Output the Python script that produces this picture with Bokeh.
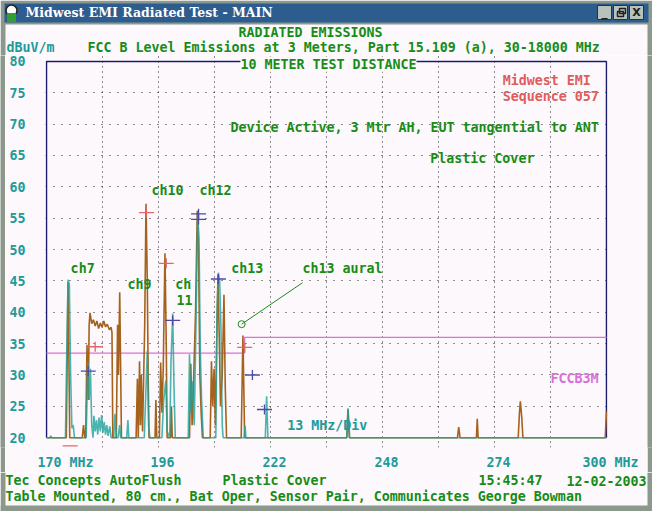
import math
from bokeh.plotting import figure
from bokeh.models import Range1d, FixedTicker, Label
from bokeh.layouts import column, row
from bokeh.embed import file_html
from bokeh.resources import INLINE

# ---------------- data ----------------
brown_freq = [170, 174.6, 175.0, 175.4, 178.3, 178.6, 178.9, 179.1, 179.4, 179.7, 179.9, 180.1, 180.5,
              180.9, 181.3, 181.7, 182.1, 182.5, 182.9, 183.3, 183.7, 184.1, 184.6, 185.0, 185.2,
              185.4, 186.2, 186.5, 186.7, 187.0, 187.4, 190.8, 191.1, 191.3, 191.6, 191.8, 192.0,
              192.3, 192.8, 193.1, 193.4, 193.6, 193.8, 195.2, 195.4, 195.6, 196.2, 196.5, 196.8,
              197.1, 197.5, 197.8, 198.0, 198.8, 199.0, 199.2, 203.2, 203.5, 203.8, 204.1,
              204.6, 205.0, 205.3, 205.6, 205.9, 206.2, 208.0, 208.3, 208.6, 208.9, 209.2,
              209.5, 209.8, 210.1, 210.4, 210.8, 211.2, 211.5, 211.8, 215.2, 215.6, 216.0,
              239.7, 240.0, 240.3, 265.4, 265.7, 266.0, 269.8, 270.0, 270.2, 279.5, 279.8,
              280.0, 280.3, 280.6, 299.7, 300]
brown_level = [20, 20, 44.8, 20, 20, 22, 20, 20, 34.8, 26, 38, 39.9, 38.2,
               38.8, 37.8, 38.6, 37.4, 38.3, 37.6, 38.6, 37.7, 38.1, 37.2, 37.6, 36.8,
               20, 20, 38, 30, 43.2, 20, 20, 29.4, 20, 32.2, 22, 30,
               21, 38, 57.3, 45, 30, 20, 20, 26, 20, 20, 32, 24,
               31, 49.4, 35, 20, 20, 25, 20, 20, 31.8, 22, 28,
               40, 56.2, 50, 30, 24, 20, 20, 32.2, 25, 31, 22,
               35, 46, 36, 25, 30, 42.8, 28, 20, 20, 36.3, 20,
               20, 24.5, 20, 20, 21.7, 20, 20, 23, 20, 20, 24,
               25.8, 23.5, 20, 20, 24.2]

teal_freq = [170, 170.8, 171.0, 171.2, 174.4, 174.8, 175.0, 175.3, 175.6, 175.9, 176.2, 176.5,
             179.2, 179.6, 179.9, 180.2, 180.5, 180.8, 181.0, 181.3, 181.6, 181.9, 182.2,
             182.5, 182.8, 183.1, 183.4, 183.7, 184.0, 184.3, 184.7, 185.0, 185.6, 185.9,
             186.2, 186.6, 187.0, 187.2, 188.6, 188.9, 189.1, 192.7, 193.1, 193.4, 193.7,
             194.0, 196.8, 197.2, 197.7, 198.0, 198.6, 198.9, 199.3, 199.6, 199.9, 202.9,
             203.2, 203.5, 203.8, 204.3, 204.7, 205.1, 205.4, 205.7, 206.0, 206.4, 209.3,
             209.6, 209.9, 210.2, 210.5, 210.8, 211.0, 215.9, 216.1, 216.3, 220.8, 221.1,
             221.4, 239.7, 240.0, 240.2, 240.4, 300]
teal_level = [20, 20, 20.3, 20, 20, 38, 45.2, 44.5, 30, 21.5, 22, 20,
              20, 32, 26, 31, 22, 20, 23.5, 21, 22.8, 20.5, 23.2,
              21, 23.6, 20.8, 22.5, 20.5, 22, 20.3, 21.8, 20, 20, 23.8,
              20, 20, 22, 20, 20, 22.8, 20, 20, 28, 33.8, 22,
              20, 20, 26, 29.1, 21, 20, 32, 39.8, 28, 20, 20,
              33.3, 24, 29, 22, 38, 55.5, 52, 34, 26, 20, 20,
              40, 46.3, 45, 37.5, 22, 20, 20, 21.9, 20, 20, 26.6,
              20, 20, 24.7, 22, 20, 20]

limit_freq = [170, 216, 216, 300]
limit_level = [33.5, 33.5, 36, 36]

red_mark_freq = [181.3, 193.2, 197.8, 216.0]
red_mark_level = [34.5, 55.9, 47.8, 34.4]
red_under_freq = [175.5]
red_under_level = [18.7]
blue_mark_freq = [179.7, 199.3, 205.3, 205.3, 209.9, 217.8, 220.6]
blue_mark_level = [30.6, 38.7, 55.7, 54.8, 45.3, 30.0, 24.5]

y_ticks = [20, 25, 30, 35, 40, 45, 50, 55, 60, 65, 70, 75, 80]
x_grid_freq = [183, 196, 209, 222, 235, 248, 261, 274, 287]
x_tick_freq = [170, 196, 222, 248, 274, 300]
x_tick_text = ["170 MHz", "196", "222", "248", "274", "300 MHz"]

annot_text = ["ch7", "ch9", "ch10", "ch12", "ch", "11", "ch13", "ch13 aural"]
annot_freq = [175.6, 188.8, 194.4, 205.5, 199.9, 200.2, 212.9, 229.4]
annot_level = [46.9, 44.4, 59.4, 59.4, 44.4, 41.9, 47.0, 47.0]
aural_freq = [215.3, 229.4]
aural_level = [38.1, 44.7]

# ---------------- styles ----------------
BG = "#fcf8fc"
GREEN = "#178c17"
TEAL_T = "#219a9a"
NAVY = "#1a1a6e"
FRAME = "#8c988c"
FONT = "DejaVu Sans Mono"
FS = "13.3px"
NBSP = "\u00a0"


def bare(fig):
    fig.background_fill_color = BG
    fig.border_fill_color = BG
    fig.outline_line_color = None
    return fig


def txt(fig, t, x, y, color, align="left", **kw):
    fig.add_layout(Label(text=t, x=x, y=y, text_font=FONT, text_font_size=FS, text_font_style="bold",
                         text_color=color, text_align=align, text_baseline="middle", **kw))


# ---------------- header (window title bar + headings), page pixel coordinates ----------------
hdr = bare(figure(width=652, height=55, x_range=Range1d(0, 652), y_range=Range1d(55, 0),
                  output_backend="svg", toolbar_location=None, min_border=0,
                  x_axis_type=None, y_axis_type=None))
hdr.quad(left=0, right=652, top=0, bottom=55, fill_color=FRAME, line_color=None)
hdr.quad(left=5, right=647, top=24, bottom=55, fill_color=BG, line_color=None)
hdr.quad(left=4, right=648, top=3, bottom=22, fill_color="#2d5c8e", line_color=None)
hdr.quad(left=[597, 613, 629], right=[611, 627, 643], top=5, bottom=19,
         fill_color="#b9c2b9", line_color="#303030", line_width=1)
hdr.quad(left=[619, 617], right=[625, 623], top=[8, 11], bottom=[13, 16], fill_color=None,
         line_color="#202020", line_width=1.5)
hdr.scatter([11], [10], size=11, marker="circle", fill_color="white", line_color="#202020", line_width=1.5)
hdr.scatter([11], [17], size=9, marker="square", fill_color="#30a030", line_color=None)
hdr.add_layout(Label(text="Midwest EMI Radiated Test - MAIN", x=25, y=12, text_font="DejaVu Serif",
                     text_font_size="12.5px", text_font_style="bold", text_color="white",
                     text_baseline="middle"))
hdr.add_layout(Label(text="_", x=604, y=11, text_font="DejaVu Sans", text_font_size="12px",
                     text_font_style="bold", text_color="#202020", text_align="center", text_baseline="middle"))
hdr.add_layout(Label(text="X", x=636, y=12, text_font="DejaVu Sans", text_font_size="11px",
                     text_font_style="bold", text_color="#202020", text_align="center", text_baseline="middle"))
txt(hdr, "RADIATED EMISSIONS", 310, 32, GREEN, align="center")
txt(hdr, "dBuV/m", 6, 47, TEAL_T)
txt(hdr, "FCC B Level Emissions at 3 Meters, Part 15.109 (a), 30-18000 MHz", 87, 47, GREEN)

# ---------------- main chart ----------------
p = figure(width=642, height=417, output_backend="svg", toolbar_location=None,
           x_range=Range1d(169.768, 300.232), y_range=Range1d(18.4375, 80.9375))
p.min_border_left = 40
p.min_border_right = 40
p.min_border_top = 0
p.min_border_bottom = 17
bare(p)

p.xgrid.ticker = FixedTicker(ticks=x_grid_freq)
p.xgrid.grid_line_color = "#202020"
p.xgrid.grid_line_dash = "1 4"
p.ygrid.ticker = FixedTicker(ticks=y_ticks[1:-1])
p.ygrid.grid_line_color = "#202020"
p.ygrid.grid_line_dash = "1 7"

ya = p.yaxis[0]
ya.ticker = FixedTicker(ticks=y_ticks)
ya.major_label_standoff = 14
xa = p.xaxis[0]
xa.ticker = FixedTicker(ticks=x_tick_freq)
pad = [4, 1, 1, 1, 1, 1]
xa.major_label_overrides = {f: NBSP * n + t for f, t, n in zip(x_tick_freq, x_tick_text, pad)}
xa.major_label_standoff = 1
for ax in (xa, ya):
    ax.axis_line_color = None
    ax.major_tick_line_color = None
    ax.minor_tick_line_color = None
    ax.major_label_text_font = FONT
    ax.major_label_text_font_size = FS
    ax.major_label_text_font_style = "bold"
    ax.major_label_text_color = TEAL_T

# plot frame (top, left, right edges)
x0, x1 = x_tick_freq[0], x_tick_freq[-1]
y0, y1 = y_ticks[0], y_ticks[-1]
p.line([x0, x0, x1, x1], [y0, y1, y1, y0], line_color=NAVY, line_width=1.5)

# traces
p.line(limit_freq, limit_level, line_color="#e070d8", line_width=1.3)
p.line(brown_freq, brown_level, line_color="#a5621c", line_width=1.6)
p.line(teal_freq, teal_level, line_color="#1fa39b", line_width=1.6, line_alpha=0.8)

# markers
p.scatter(red_mark_freq, red_mark_level, marker="dash", size=15, line_color="#e06868", line_width=1.3)
p.scatter(red_mark_freq, red_mark_level, marker="dash", angle=math.pi / 2, size=10,
          line_color="#e06868", line_width=1.3)
p.scatter(red_under_freq, red_under_level, marker="dash", size=15, line_color="#e06868", line_width=1.3)
p.scatter(blue_mark_freq, blue_mark_level, marker="dash", size=15, line_color="#4a4aa8", line_width=1.3)
p.scatter(blue_mark_freq, blue_mark_level, marker="dash", angle=math.pi / 2, size=10,
          line_color="#4a4aa8", line_width=1.3)

# aural pointer
p.line(aural_freq, aural_level, line_color=GREEN, line_width=1)
p.scatter(aural_freq[:1], aural_level[:1], marker="circle", size=7, fill_color=None,
          line_color=GREEN, line_width=1)

for t, f, l in zip(annot_text, annot_freq, annot_level):
    txt(p, t, f, l, GREEN)

txt(p, "10 METER TEST DISTANCE", 235.46, 79.53, GREEN, align="center", background_fill_color=BG)
txt(p, "Midwest EMI", 275.9, 77.0, "#e05c5c")
txt(p, "Sequence 057", 275.9, 74.4, "#e05c5c")
txt(p, "Device Active, 3 Mtr AH, EUT tangential to ANT", 212.7, 69.4, GREEN)
txt(p, "Plastic Cover", 259.1, 64.5, GREEN)
txt(p, "13 MHz/Div", 225.9, 22.0, TEAL_T)
txt(p, "FCCB3M", 287.0, 29.5, "#d870d8")


def side():
    s = figure(width=5, height=417, output_backend="svg", toolbar_location=None, min_border=0,
               x_axis_type=None, y_axis_type=None)
    s.background_fill_color = FRAME
    s.border_fill_color = FRAME
    s.outline_line_color = None
    return s


# ---------------- footer, page pixel coordinates ----------------
ftr = bare(figure(width=652, height=39, x_range=Range1d(0, 652), y_range=Range1d(511, 472),
                  output_backend="svg", toolbar_location=None, min_border=0,
                  x_axis_type=None, y_axis_type=None))
ftr.quad(left=[0, 647, 0], right=[5, 652, 652], top=[472, 472, 505], bottom=[511, 511, 511],
         fill_color=FRAME, line_color=None)
txt(ftr, "Tec Concepts AutoFlush", 5, 480, GREEN)
txt(ftr, "Plastic Cover", 222, 480, GREEN)
txt(ftr, "15:45:47", 478, 480, GREEN)
txt(ftr, "12-02-2003", 566, 480, GREEN)
txt(ftr, "Table Mounted, 80 cm., Bat Oper, Sensor Pair, Communicates George Bowman", 5, 496, GREEN)

layout = column(hdr, row(side(), p, side()), ftr)
open("out.html", "w").write(file_html(layout, INLINE))
